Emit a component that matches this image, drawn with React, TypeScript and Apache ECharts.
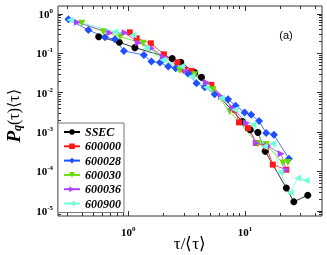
import React, { useEffect, useRef } from "react";
import * as echarts from "echarts";

// ---- data (tau/<tau> and P_q(tau)<tau>) ----
const seriesNames = ["SSEC", "600000", "600028", "600030", "600036", "600900"];

const ssecX = [0.558, 0.838, 1.14, 2.38, 2.82, 3.71, 4.24, 9.49, 11.1, 12.9, 14.9, 22.6, 26.2, 34.5];
const ssecY = [0.264, 0.19, 0.139, 0.0733, 0.0592, 0.0324, 0.0247, 0.00186, 0.00115, 0.00098, 0.000324, 3.8e-5, 1.7e-5, 2.5e-5];

const s600000X = [1.03, 1.18, 1.56, 2.02, 2.64, 3.05, 3.48, 5.15, 8.21, 8.89, 10.6, 12.5, 15.2, 17.3, 22.6];
const s600000Y = [0.34, 0.24, 0.179, 0.094, 0.059, 0.038, 0.0357, 0.0158, 0.00367, 0.00176, 0.00126, 0.00053, 0.00043, 0.000149, 0.000111];

const s600028X = [0.307, 0.455, 0.632, 0.769, 0.918, 1.36, 1.58, 1.87, 2.2, 2.55, 3.26, 3.84, 4.52, 5.5, 7.16, 8.32, 9.93, 11.3, 13.2, 15.2, 17.7, 23.8];
const s600028Y = [0.726, 0.39, 0.254, 0.226, 0.115, 0.0908, 0.0615, 0.058, 0.0459, 0.0417, 0.03, 0.0174, 0.0138, 0.00916, 0.00684, 0.00466, 0.00315, 0.00275, 0.0019, 0.00095, 0.00085, 0.000211];

const s600030X = [0.4, 0.611, 0.849, 1.34, 2.76, 3.71, 5.33, 7.39, 12.9, 15.2, 21.1, 23.3];
const s600030Y = [0.575, 0.354, 0.264, 0.179, 0.0364, 0.0283, 0.0118, 0.00334, 0.000507, 0.00048, 0.000164, 0.00017];

const s600036X = [0.367, 0.697, 0.94, 1.22, 1.58, 2.0, 3.15, 4.67, 6.28, 7.89, 10.3, 12.5, 15.7, 20.4, 22.6];
const s600036Y = [0.61, 0.33, 0.333, 0.186, 0.134, 0.082, 0.0364, 0.0181, 0.008, 0.00405, 0.00169, 0.00053, 0.00044, 0.000282, 0.000111];

const s600900X = [0.317, 0.77, 1.1, 1.43, 1.99, 2.85, 3.47, 4.67, 6.28, 8.17, 11.7, 14.7, 17.3, 20.0, 24.4, 28.4, 33.4];
const s600900Y = [0.698, 0.354, 0.291, 0.134, 0.0678, 0.0459, 0.0257, 0.0138, 0.0073, 0.00367, 0.00153, 0.00043, 0.000507, 9.55e-5, 2.88e-5, 6.84e-5, 5.86e-5];

const xMajorExponents = [0, 1];
const yMajorExponents = [-5, -4, -3, -2, -1, 0];

const X_MIN = 0.25;
const X_MAX = 45.7;
const Y_MIN = 7.4e-6;
const Y_MAX = 1.585;

export default function App() {
  const ref = useRef<HTMLDivElement>(null);

  useEffect(() => {
    if (!ref.current) return;
    const chart = echarts.init(ref.current, null, { renderer: "svg" });

    const lx0 = Math.log10(X_MIN), lx1 = Math.log10(X_MAX);
    const ly0 = Math.log10(Y_MIN), ly1 = Math.log10(Y_MAX);

    const minorVals = (a: number, b: number) => {
      const out: number[] = [];
      for (let n = Math.floor(a) - 1; n <= Math.ceil(b); n++) {
        for (let k = 2; k <= 9; k++) {
          const v = Math.log10(k) + n;
          if (v > a && v < b) out.push(v);
        }
      }
      return out;
    };
    const xMinor = minorVals(lx0, lx1);
    const yMinor = minorVals(ly0, ly1);

    const serif = "Liberation Serif";
    const tickColor = "#333";
    const rich = {
      b: { fontFamily: serif, fontWeight: "bold", fontSize: 11, color: "#000", lineHeight: 13 },
      s: { fontFamily: serif, fontWeight: "bold", fontSize: 7, color: "#000", verticalAlign: "top", lineHeight: 13 },
    };
    const fmt = (v: number) => `{b|10}{s|${Math.round(v)}}`;

    const tickAxisX = (position: string, values: number[], len: number, labels: boolean) => ({
      type: "value",
      position,
      min: lx0,
      max: lx1,
      axisLine: { show: false, onZero: false },
      splitLine: { show: false },
      axisTick: { show: true, inside: true, length: len, customValues: values, lineStyle: { color: tickColor, width: 1 } },
      axisLabel: labels
        ? { show: true, customValues: xMajorExponents, formatter: fmt, rich, margin: 9 }
        : { show: false },
    });
    const tickAxisY = (position: string, values: number[], len: number, labels: boolean) => ({
      type: "value",
      position,
      min: ly0,
      max: ly1,
      axisLine: { show: false, onZero: false },
      splitLine: { show: false },
      axisTick: { show: true, inside: true, length: len, customValues: values, lineStyle: { color: tickColor, width: 1 } },
      axisLabel: labels
        ? { show: true, customValues: yMajorExponents, formatter: fmt, rich, margin: 5 }
        : { show: false },
    });

    const mk = (
      name: string,
      xs: number[],
      ys: number[],
      color: string,
      symbol: string,
      size: number,
      rotate: number
    ) => ({
      name,
      type: "line",
      xAxisIndex: 0,
      yAxisIndex: 0,
      data: xs.map((x, i) => [x, ys[i]]),
      symbol,
      symbolSize: size,
      symbolRotate: rotate,
      showAllSymbol: true,
      lineStyle: { color, width: 0.8 },
      itemStyle: { color },
    });

    chart.setOption({
      animation: false,
      grid: {
        left: 58,
        right: 5,
        top: 6,
        bottom: 39,
        show: true,
        borderColor: "#333",
        borderWidth: 1,
        backgroundColor: "transparent",
      },
      xAxis: [
        { type: "log", min: X_MIN, max: X_MAX, show: false },
        tickAxisX("bottom", xMajorExponents, 5, true),
        tickAxisX("bottom", xMinor, 3, false),
        tickAxisX("top", xMajorExponents, 5, false),
        tickAxisX("top", xMinor, 3, false),
      ],
      yAxis: [
        { type: "log", min: Y_MIN, max: Y_MAX, show: false },
        tickAxisY("left", yMajorExponents, 5, true),
        tickAxisY("left", yMinor, 3, false),
        tickAxisY("right", yMajorExponents, 5, false),
        tickAxisY("right", yMinor, 3, false),
      ],
      legend: {
        data: seriesNames,
        orient: "vertical",
        left: 58,
        top: 123,
        padding: [3, 3, 3, 5],
        itemGap: 2.3,
        itemWidth: 16,
        itemHeight: 7,
        backgroundColor: "#fff",
        borderColor: "#777",
        borderWidth: 1,
        textStyle: {
          fontFamily: serif,
          fontWeight: "bold",
          fontStyle: "italic",
          fontSize: 12,
          color: "#000",
        },
      },
      series: [
        mk(seriesNames[0], ssecX, ssecY, "#000000", "circle", 7, 0),
        mk(seriesNames[1], s600000X, s600000Y, "#ff1a1a", "rect", 6, 0),
        mk(seriesNames[2], s600028X, s600028Y, "#1f4fff", "diamond", 8, 0),
        mk(seriesNames[3], s600030X, s600030Y, "#66dd00", "triangle", 7, 180),
        mk(seriesNames[4], s600036X, s600036Y, "#b040ff", "triangle", 7, -90),
        mk(seriesNames[5], s600900X, s600900Y, "#70ffd8", "triangle", 7, 90),
      ],
      graphic: [
        {
          type: "text",
          x: 13,
          y: 116,
          rotation: Math.PI / 2,
          style: {
            text: "{p|P}{q|q}{r|(τ)⟨τ⟩}",
            align: "center",
            verticalAlign: "middle",
            rich: {
              p: { fontFamily: serif, fontWeight: "bold", fontStyle: "italic", fontSize: 19, color: "#000", lineHeight: 20 },
              q: { fontFamily: serif, fontWeight: "bold", fontStyle: "italic", fontSize: 12, color: "#000", verticalAlign: "bottom", lineHeight: 20 },
              r: { fontFamily: serif, fontSize: 16, color: "#000", lineHeight: 20 },
            },
          },
        },
        {
          type: "text",
          x: 190,
          y: 243,
          style: {
            text: "τ/⟨τ⟩",
            align: "center",
            verticalAlign: "middle",
            fontFamily: serif,
            fontSize: 17,
            fill: "#000",
          },
        },
        {
          type: "text",
          x: 286,
          y: 35,
          style: {
            text: "(a)",
            align: "center",
            verticalAlign: "middle",
            fontFamily: "Liberation Sans",
            fontSize: 11,
            fill: "#000",
          },
        },
      ],
    });

    return () => chart.dispose();
  }, []);

  return (
    <div
      ref={ref}
      style={{ position: "fixed", left: 0, top: 0, width: 327, height: 255 }}
    />
  );
}
